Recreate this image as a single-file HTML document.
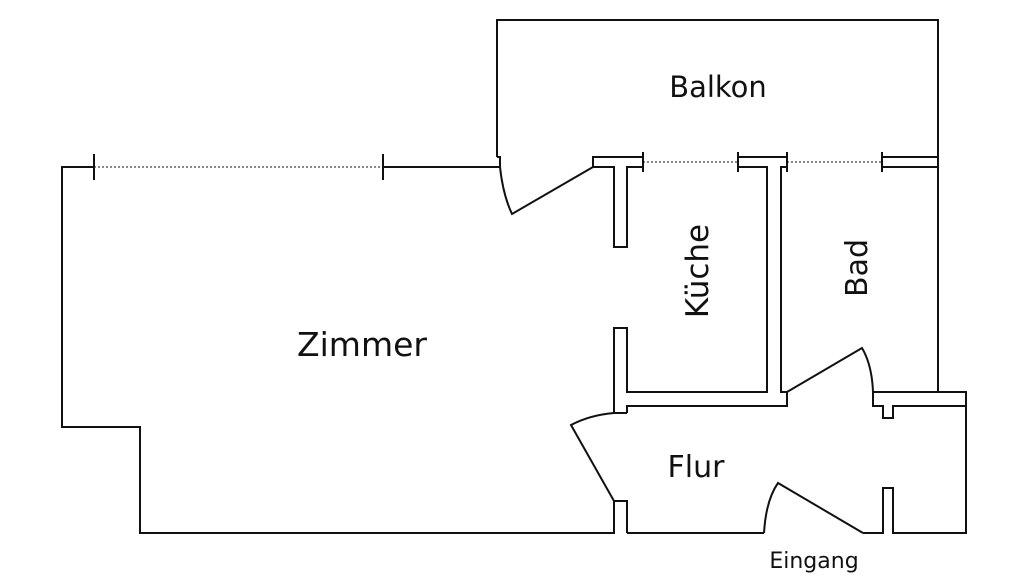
<!DOCTYPE html>
<html><head><meta charset="utf-8"><style>
html,body{margin:0;padding:0;background:#fff;}
svg{display:block;}
text{font-family:"DejaVu Sans","Liberation Sans",sans-serif;fill:#111;}
</style></head><body>
<svg width="1024" height="576" viewBox="0 0 1024 576" xmlns="http://www.w3.org/2000/svg">
<g fill="none" stroke="#111" stroke-width="2">
<polyline points="94,167 62,167 62,427 140,427 140,533 614,533 614,501"/>
<line x1="383" y1="167" x2="500" y2="167"/>
<line x1="94" y1="154" x2="94" y2="180"/>
<line x1="383" y1="154" x2="383" y2="180"/>
<line x1="94" y1="167" x2="383" y2="167" stroke-width="1" stroke-dasharray="2,2"/>
<polyline points="497,157 497,20 938,20 938,392"/>
<polyline points="497,157 500,157 500,167"/>
<path d="M500,167 Q503,195 512,214 L593,167"/>
<polygon points="593,157 643,157 643,167 627,167 627,247 614,247 614,167 593,167"/>
<line x1="643" y1="152" x2="643" y2="172"/>
<line x1="643" y1="162" x2="738" y2="162" stroke-width="1" stroke-dasharray="2,2"/>
<line x1="738" y1="152" x2="738" y2="172"/>
<polyline points="738,157 787,157 787,167 781,167 781,392 787,392 787,406 627,406 627,413"/>
<polyline points="738,157 738,167 767,167 767,392 627,392 627,328 614,328 614,413"/>
<line x1="787" y1="152" x2="787" y2="172"/>
<line x1="787" y1="162" x2="882" y2="162" stroke-width="1" stroke-dasharray="2,2"/>
<line x1="882" y1="152" x2="882" y2="172"/>
<polyline points="882,157 938,157"/>
<polyline points="882,167 938,167"/>
<path d="M787,392 L862,348 Q872,365 873,392 L873,406 L883,406 L883,418 L893,418 L893,406 L966,406"/>
<polyline points="873,392 966,392 966,533 893,533 893,488 883,488 883,533 863,533"/>
<path d="M764,533 Q766,500 778,483 L863,533"/>
<line x1="627" y1="533" x2="764" y2="533"/>
<polyline points="614,501 627,501 627,533"/>
<path d="M614,413 Q590,415 571,425 L614,501"/>
<line x1="614" y1="413" x2="627" y2="413"/>
</g>
<text x="718" y="97" font-size="29" text-anchor="middle">Balkon</text>
<text x="362" y="356" font-size="33" text-anchor="middle">Zimmer</text>
<text x="696" y="477" font-size="30" text-anchor="middle">Flur</text>
<text x="814" y="568" font-size="22" text-anchor="middle">Eingang</text>
<text transform="translate(708,271) rotate(-90)" font-size="31" text-anchor="middle">Küche</text>
<text transform="translate(867,268) rotate(-90)" font-size="30" text-anchor="middle">Bad</text>
</svg>
</body></html>
